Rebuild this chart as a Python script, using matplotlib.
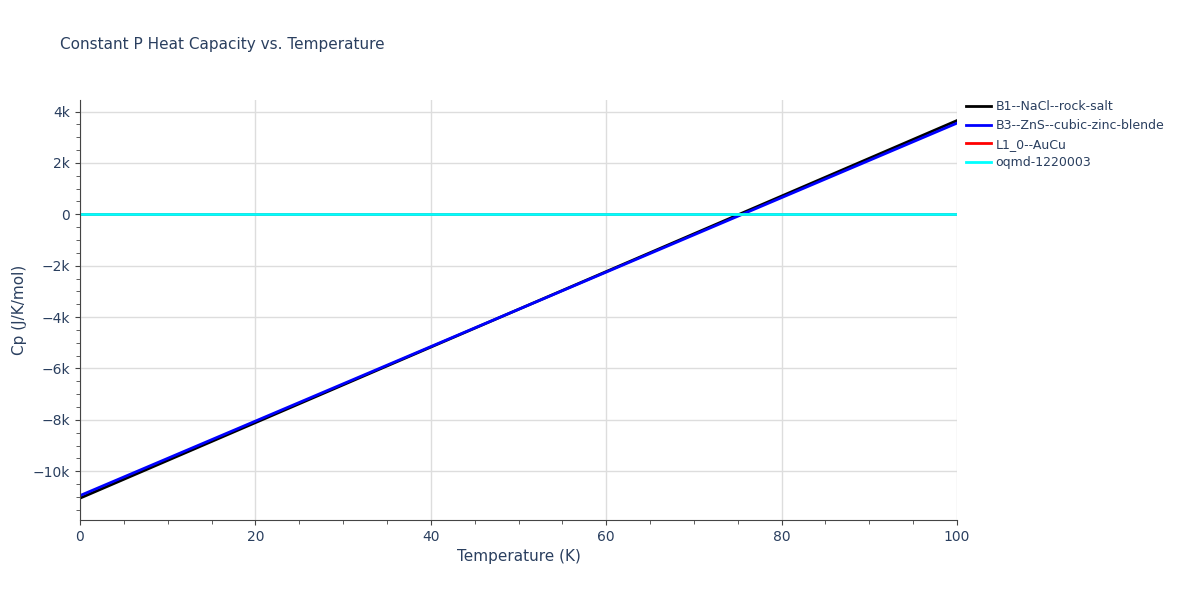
import matplotlib
matplotlib.use("Agg")
import matplotlib.pyplot as plt
from matplotlib.ticker import FuncFormatter, MultipleLocator

temps = [0, 25, 50, 75, 100]
b1 = [-11050, -7375, -3700, -25, 3650]
b3 = [-10950, -7325, -3700, -75, 3550]
l10 = [0, 0, 0, 0, 0]
oqmd = [0, 0, 0, 0, 0]
series = [("B1--NaCl--rock-salt", b1, "black"),
          ("B3--ZnS--cubic-zinc-blende", b3, "blue"),
          ("L1_0--AuCu", l10, "red"),
          ("oqmd-1220003", oqmd, "cyan")]

fig = plt.figure(figsize=(12, 6), dpi=100)
ax = fig.add_axes([80/1200, 80/600, 877/1200, 420/600])
for name, ys, c in series:
    ax.plot(temps, ys, color=c, lw=2, label=name)
ax.set_xlim(0, 100)
ax.set_ylim(-11900, 4450)
ax.xaxis.set_major_locator(MultipleLocator(20))
ax.xaxis.set_minor_locator(MultipleLocator(5))
ax.yaxis.set_major_locator(MultipleLocator(2000))
ax.yaxis.set_minor_locator(MultipleLocator(500))
ax.yaxis.set_major_formatter(FuncFormatter(lambda v, p: "0" if v == 0 else ("%dk" % (v/1000)).replace("-", "\u2212")))
ax.grid(True, which="major", color="#dddddd", lw=1)
for s in ["top", "right"]:
    ax.spines[s].set_visible(False)
for s in ["left", "bottom"]:
    ax.spines[s].set_color("#444444")
ax.tick_params(colors="#444444", labelcolor="#2a3f5f", labelsize=10)
ax.tick_params(which="minor", colors="#444444", length=3)
ax.set_xlabel("Temperature (K)", color="#2a3f5f", fontsize=11)
ax.set_ylabel("Cp (J/K/mol)", color="#2a3f5f", fontsize=11)
fig.text(60/1200, 1-45/600, "Constant P Heat Capacity vs. Temperature", color="#2a3f5f", fontsize=11, va="center")
ax.legend(loc="upper left", bbox_to_anchor=(1.0, 1.02), frameon=False, fontsize=9, labelcolor="#2a3f5f",
          handlelength=2.0, handletextpad=0.4, labelspacing=0.45, borderaxespad=0.3)
fig.savefig("out.png")
